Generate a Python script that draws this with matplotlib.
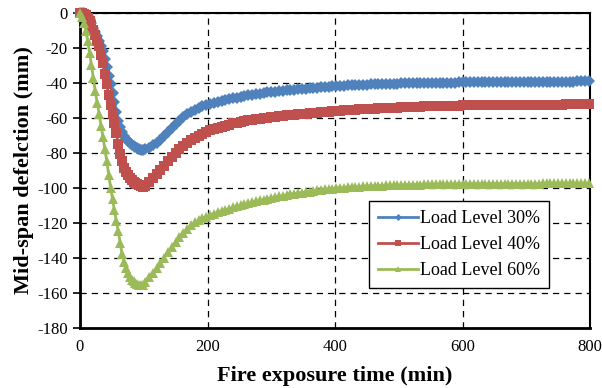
import matplotlib
matplotlib.use('Agg')
import matplotlib.pyplot as plt
import numpy as np

# fire exposure time: every 3 min up to 99 min, then every 6 min
time = np.concatenate([np.arange(0, 100, 3), np.arange(102, 800, 6)])

load_30 = [0, 0, -0.3, -1, -2, -3.8, -6, -8.5, -11, -13.5, -16, -19, -22, -26.5, -31, -36, -41,
           -46, -51, -56.5, -62, -65.2, -68, -70.2, -72, -73.3, -74.5, -75.5, -76.3, -77, -77.5, -77.9, -78.2, -78.3,
           -78.1, -77.3, -75.8, -74.2, -72.5, -70.4, -68.2, -66.0, -63.8, -61.7, -59.8, -58.1, -56.7, -55.5, -54.5, -53.6, -52.9,
           -52.2, -51.6, -51.0, -50.5, -50.0, -49.5, -49.0, -48.5, -48.0, -47.6, -47.2, -46.8, -46.5, -46.2, -45.9, -45.6, -45.3,
           -45.1, -44.9, -44.6, -44.4, -44.2, -44.0, -43.8, -43.6, -43.4, -43.2, -43.0, -42.8, -42.6, -42.4, -42.2, -42.0, -41.9,
           -41.8, -41.7, -41.6, -41.5, -41.4, -41.3, -41.2, -41.1, -41.0, -40.9, -40.8, -40.7, -40.7, -40.6, -40.5, -40.5, -40.4,
           -40.4, -40.3, -40.3, -40.2, -40.2, -40.1, -40.1, -40.1, -40.0, -40.0, -40.0, -39.9, -39.9, -39.9, -39.8, -39.8,
           -39.8, -39.8, -39.8, -39.7, -39.7, -39.7, -39.7, -39.7, -39.6, -39.6, -39.6, -39.6, -39.6, -39.6, -39.5, -39.5,
           -39.5, -39.5, -39.5, -39.5, -39.5, -39.4, -39.4, -39.4, -39.4, -39.4, -39.4, -39.4, -39.4, -39.3, -39.3, -39.3, -39.3]

load_40 = [0, 0, -0.5, -1.5, -3, -4.8, -7, -10, -13, -16, -19, -24, -29, -35, -41, -47, -53,
           -58, -63, -69, -75, -80.5, -85, -88.5, -91, -93, -94.5, -95.6, -96.5, -97.3, -98, -98.7, -99.2, -99.4,
           -99.0, -97.0, -94.5, -92.0, -89.7, -87.5, -85.0, -82.5, -80.2, -78.0, -76.0, -74.3, -72.8, -71.5, -70.3, -69.2, -68.2,
           -67.3, -66.5, -65.8, -65.1, -64.5, -63.9, -63.3, -62.8, -62.3, -61.9, -61.5, -61.1, -60.8, -60.5, -60.2, -59.9, -59.7,
           -59.4, -59.2, -58.9, -58.7, -58.5, -58.3, -58.1, -57.9, -57.7, -57.5, -57.3, -57.1, -56.9, -56.7, -56.5, -56.3, -56.1,
           -56.0, -55.8, -55.7, -55.5, -55.4, -55.3, -55.1, -55.0, -54.9, -54.8, -54.7, -54.6, -54.5, -54.4, -54.3, -54.2, -54.1,
           -54.0, -53.9, -53.8, -53.8, -53.7, -53.6, -53.5, -53.5, -53.4, -53.3, -53.3, -53.2, -53.2, -53.1, -53.1, -53.0,
           -53.0, -52.9, -52.9, -52.9, -52.8, -52.8, -52.8, -52.8, -52.7, -52.7, -52.7, -52.7, -52.7, -52.6, -52.6, -52.6,
           -52.6, -52.6, -52.6, -52.5, -52.5, -52.5, -52.5, -52.5, -52.5, -52.5, -52.4, -52.4, -52.4, -52.4, -52.4, -52.4, -52.4]

load_60 = [0, -2.5, -6, -10.5, -16, -23, -30, -37.5, -45, -51.5, -58, -64.5, -71, -78, -85, -92.5, -100,
           -106.5, -113, -119, -125, -131.5, -138, -142.5, -146, -148.8, -151, -152.5, -153.5, -154.4, -155, -155.4, -155.7, -155.6,
           -154.0, -151.0, -148.5, -145.8, -143.0, -140.0, -137.0, -134.0, -131.0, -128.3, -125.8, -123.5, -121.5, -119.8, -118.5, -117.4, -116.5,
           -115.6, -114.8, -114.0, -113.3, -112.6, -112.0, -111.3, -110.7, -110.1, -109.5, -108.9, -108.3, -107.8, -107.3, -106.8, -106.3, -105.8,
           -105.4, -105.0, -104.6, -104.2, -103.8, -103.4, -103.1, -102.8, -102.5, -102.2, -101.9, -101.6, -101.3, -101.0, -100.8, -100.6, -100.4,
           -100.2, -100.0, -99.8, -99.7, -99.5, -99.4, -99.3, -99.2, -99.1, -99.0, -98.9, -98.8, -98.7, -98.6, -98.6, -98.5, -98.4,
           -98.4, -98.3, -98.3, -98.2, -98.2, -98.1, -98.1, -98.1, -98.0, -98.0, -98.0, -97.9, -97.9, -97.9, -97.9, -97.8,
           -97.8, -97.8, -97.8, -97.8, -97.8, -97.8, -97.8, -97.8, -97.7, -97.7, -97.7, -97.7, -97.7, -97.7, -97.7, -97.7,
           -97.7, -97.7, -97.7, -97.7, -97.6, -97.6, -97.6, -97.6, -97.6, -97.6, -97.6, -97.6, -97.6, -97.6, -97.6, -97.6, -97.6]

labels = ['Load Level 30%', 'Load Level 40%', 'Load Level 60%']

plt.rcParams['font.family'] = ['Liberation Serif', 'DejaVu Serif']
plt.rcParams['axes.unicode_minus'] = False

fig = plt.figure(figsize=(6.02, 3.88), dpi=100)
ax = fig.add_axes([80 / 602, 1 - 327.7 / 388, 510 / 602, 315 / 388])

ax.plot(time, load_30, color='#4F81BD', lw=2, marker='D', ms=6, mew=0, label=labels[0], clip_on=False, zorder=3)
ax.plot(time, load_40, color='#C0504D', lw=2, marker='s', ms=6.8, mew=0, label=labels[1], clip_on=False, zorder=4)
ax.plot(time, load_60, color='#9BBB59', lw=2, marker='^', ms=7.5, mew=0, label=labels[2], clip_on=False, zorder=5)

ax.set_xlim(0, 800)
ax.set_ylim(-180, 0)
ax.set_xticks(np.arange(0, 801, 200))
ax.set_yticks(np.arange(-180, 1, 20))
ax.grid(True, color='black', lw=0.9, linestyle=(0, (5, 4)))
ax.set_axisbelow(True)

for side in ['top', 'right']:
    ax.spines[side].set_linewidth(1.5)
for side in ['left', 'bottom']:
    ax.spines[side].set_linewidth(2)

ax.tick_params(axis='both', direction='out', length=5, width=1.2, labelsize=12, pad=4)
ax.tick_params(axis='x', length=0, pad=8)

ax.set_xlabel('Fire exposure time (min)', fontsize=16, fontweight='bold', labelpad=8)
ax.set_ylabel('Mid-span defelction (mm)', fontsize=16, fontweight='bold', labelpad=2)

leg = ax.legend(loc='lower right', bbox_to_anchor=(0.937, 0.0975), fontsize=13, frameon=True,
                fancybox=False, framealpha=1, edgecolor='black', handlelength=2.2,
                markerscale=0.6, borderpad=0.5, labelspacing=0.5, handletextpad=0.1)
leg.get_frame().set_linewidth(1.0)

fig.savefig('out.png', dpi=100)
